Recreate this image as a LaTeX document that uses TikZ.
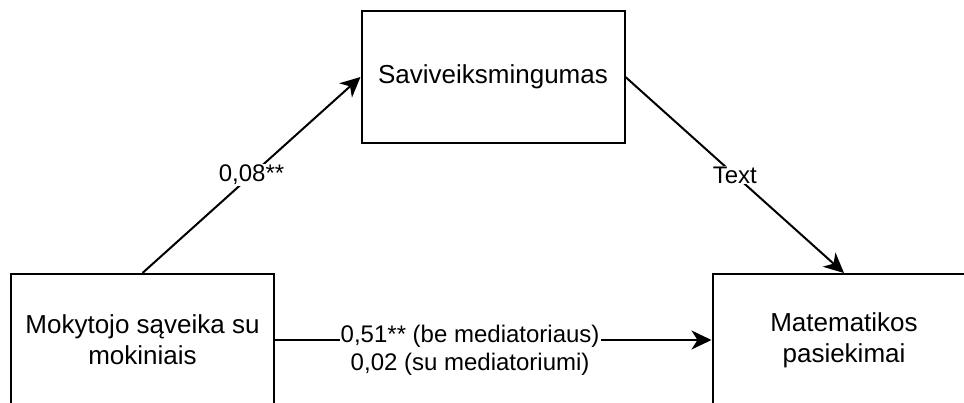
\documentclass[tikz,border=0pt]{standalone}
\usepackage{fontspec}
\setmainfont{Liberation Sans}
\usetikzlibrary{arrows.meta}
\begin{document}
\begin{tikzpicture}[x=1pt,y=-1pt,
 box/.style={draw=black, line width=2pt, minimum width=263pt, minimum height=132pt, inner sep=0pt, align=center, font=\fontsize{26}{31}\selectfont},
 conn/.style={line width=2pt, -{Stealth[length=20pt,width=19pt,inset=6pt]}},
 lbl/.style={fill=white, inner sep=1pt, font=\fontsize{24}{28}\selectfont, align=center}]
\useasboundingbox (0,0) rectangle (964,402);
\clip (0,0) rectangle (964,402);
\node[box] (top) at (493,77) {Saviveiksmingumas};
\node[box] (src) at (142.5,340) {Mokytojo sąveika su\\mokiniais};
\node[box] (dst) at (844,340) {Matematikos\\pasiekimai};
\draw[conn] (src.north) -- node[lbl] {0,08**} (top.west);
\draw[conn] (top.east) -- node[lbl] {Text} (dst.north);
\draw[conn] (src.east) -- node[lbl, pos=0.447, yshift=-10pt] {0,51** (be mediatoriaus)\\0,02 (su mediatoriumi)} (dst.west);
\end{tikzpicture}
\end{document}
